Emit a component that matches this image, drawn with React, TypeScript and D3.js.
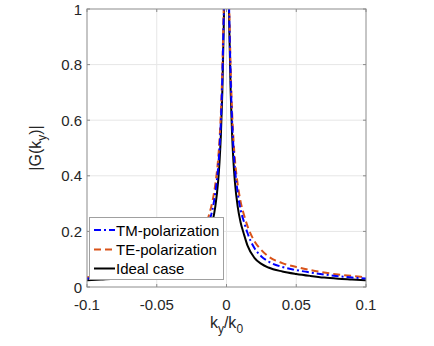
import React, { useEffect, useRef } from 'react';
import * as d3 from 'd3';

// positive half of k_y/k_0 (curves are mirrored around 0)
const kPos = [0, 0.001, 0.002, 0.003, 0.004, 0.005, 0.006, 0.008, 0.01, 0.0125, 0.015, 0.02, 0.025, 0.03, 0.04, 0.05, 0.06, 0.07, 0.08, 0.09, 0.1];
const tmVals = [1.3, 1.2, 0.97, 0.75, 0.6, 0.5, 0.43, 0.34, 0.28, 0.235, 0.195, 0.14, 0.11, 0.092, 0.072, 0.061, 0.052, 0.045, 0.039, 0.034, 0.031];
const teVals = [1.3, 1.2, 1.0, 0.78, 0.63, 0.53, 0.46, 0.37, 0.31, 0.26, 0.22, 0.165, 0.133, 0.11, 0.086, 0.072, 0.061, 0.052, 0.045, 0.04, 0.035];
const idealVals = [1.35, 1.2, 0.93, 0.7, 0.55, 0.45, 0.38, 0.29, 0.235, 0.19, 0.15, 0.105, 0.083, 0.07, 0.056, 0.047, 0.04, 0.034, 0.03, 0.027, 0.024];

const xTicks = [-0.1, -0.05, 0, 0.05, 0.1];
const yTicks = [0, 0.2, 0.4, 0.6, 0.8, 1];

const seriesNames = ['TM-polarization', 'TE-polarization', 'Ideal case'];
const seriesColors = ['#0000ff', '#d95319', '#000000'];
const seriesDash = ['7 3 2 3', '7 4', null];

const mirror = (vals: number[]) => {
  const pts: [number, number][] = [];
  for (let i = kPos.length - 1; i > 0; i--) pts.push([-kPos[i], vals[i]]);
  for (let i = 0; i < kPos.length; i++) pts.push([kPos[i], vals[i]]);
  return pts;
};

const App = () => {
  const ref = useRef<SVGSVGElement>(null);

  useEffect(() => {
    const svg = d3.select(ref.current);
    svg.selectAll('*').remove();

    const left = 87, right = 366, top = 9, bottom = 287;
    const font = 'Liberation Sans, Arial, Helvetica, sans-serif';
    const textColor = '#262626';

    const x = d3.scaleLinear().domain([-0.1, 0.1]).range([left, right]);
    const y = d3.scaleLinear().domain([0, 1]).range([bottom, top]);

    svg.append('rect').attr('width', 434).attr('height', 346).attr('fill', '#fff');

    // grid
    svg.append('g').selectAll('line').data(xTicks.slice(1, -1)).enter().append('line')
      .attr('x1', d => x(d)).attr('x2', d => x(d)).attr('y1', top).attr('y2', bottom)
      .attr('stroke', '#e6e6e6').attr('stroke-width', 1);
    svg.append('g').selectAll('line').data(yTicks.slice(1, -1)).enter().append('line')
      .attr('x1', left).attr('x2', right).attr('y1', d => y(d)).attr('y2', d => y(d))
      .attr('stroke', '#e6e6e6').attr('stroke-width', 1);

    // curves
    svg.append('clipPath').attr('id', 'plotclip').append('rect')
      .attr('x', left).attr('y', top).attr('width', right - left).attr('height', bottom - top);
    const line = d3.line<[number, number]>().x(d => x(d[0])).y(d => y(d[1])).curve(d3.curveMonotoneX);
    const allVals = [tmVals, teVals, idealVals];
    const order = [2, 1, 0];
    const g = svg.append('g').attr('clip-path', 'url(#plotclip)');
    order.forEach(i => {
      g.append('path')
        .attr('d', line(mirror(allVals[i])) as string)
        .attr('fill', 'none')
        .attr('stroke', seriesColors[i])
        .attr('stroke-width', 2)
        .attr('stroke-dasharray', seriesDash[i] as any);
    });

    // box
    svg.append('rect').attr('x', left).attr('y', top).attr('width', right - left).attr('height', bottom - top)
      .attr('fill', 'none').attr('stroke', '#8c8c8c').attr('stroke-width', 1);

    // ticks
    const tl = 3;
    xTicks.forEach(t => {
      svg.append('line').attr('x1', x(t)).attr('x2', x(t)).attr('y1', bottom).attr('y2', bottom - tl).attr('stroke', '#8c8c8c');
      svg.append('line').attr('x1', x(t)).attr('x2', x(t)).attr('y1', top).attr('y2', top + tl).attr('stroke', '#8c8c8c');
      svg.append('text').attr('x', x(t)).attr('y', 310).attr('text-anchor', 'middle')
        .attr('font-family', font).attr('font-size', 15).attr('fill', textColor).text(String(t));
    });
    yTicks.forEach(t => {
      svg.append('line').attr('x1', left).attr('x2', left + tl).attr('y1', y(t)).attr('y2', y(t)).attr('stroke', '#8c8c8c');
      svg.append('line').attr('x1', right).attr('x2', right - tl).attr('y1', y(t)).attr('y2', y(t)).attr('stroke', '#8c8c8c');
      svg.append('text').attr('x', 82).attr('y', y(t) + 5.5).attr('text-anchor', 'end')
        .attr('font-family', font).attr('font-size', 15).attr('fill', textColor).text(String(t));
    });

    // axis labels
    const xl = svg.append('text').attr('x', (left + right) / 2).attr('y', 328).attr('text-anchor', 'middle')
      .attr('font-family', font).attr('font-size', 16).attr('fill', textColor);
    xl.append('tspan').text('k');
    xl.append('tspan').attr('dy', 5).attr('font-size', 12).text('y');
    xl.append('tspan').attr('dy', -5).text('/k');
    xl.append('tspan').attr('dy', 5).attr('font-size', 12).text('0');

    const yl = svg.append('text').attr('transform', `translate(41,${(top + bottom) / 2}) rotate(-90)`)
      .attr('text-anchor', 'middle').attr('font-family', font).attr('font-size', 16).attr('fill', textColor);
    yl.append('tspan').text('|G(k');
    yl.append('tspan').attr('dy', 5).attr('font-size', 12).text('y');
    yl.append('tspan').attr('dy', -5).text(')|');

    // legend
    const lg = svg.append('g');
    lg.append('rect').attr('x', 89.5).attr('y', 217.5).attr('width', 134).attr('height', 62)
      .attr('fill', '#fff').attr('stroke', '#a0a0a0').attr('stroke-width', 1);
    const rowY = [230, 249.5, 268.5];
    seriesNames.forEach((name, i) => {
      lg.append('line').attr('x1', 94).attr('x2', 115).attr('y1', rowY[i]).attr('y2', rowY[i])
        .attr('stroke', seriesColors[i]).attr('stroke-width', 2)
        .attr('stroke-dasharray', seriesDash[i] as any);
      lg.append('text').attr('x', 116).attr('y', rowY[i] + 5.5)
        .attr('font-family', font).attr('font-size', 15).attr('fill', '#000').text(name);
    });
  }, []);

  return <svg ref={ref} width={434} height={346} style={{ position: 'absolute', left: 0, top: 0 }} />;
};

export default App;
